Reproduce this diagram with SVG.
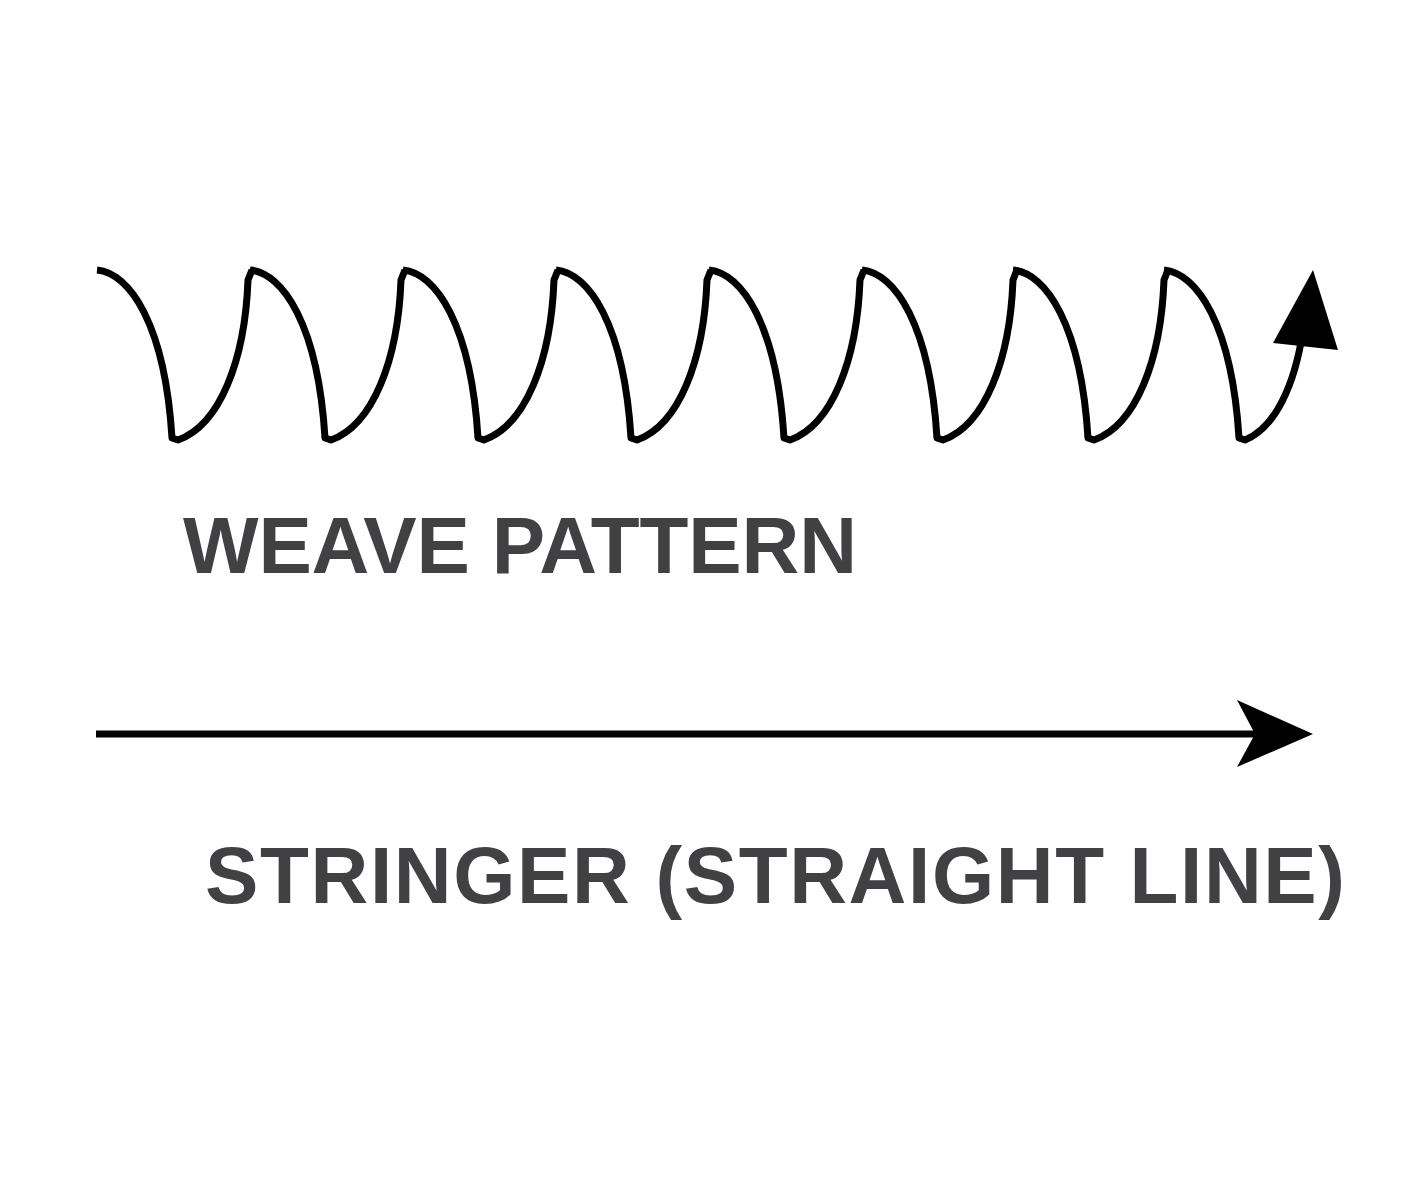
<svg xmlns="http://www.w3.org/2000/svg" width="1423" height="1185" viewBox="0 0 1423 1185">
<style>
.w{fill:none;stroke:#000;stroke-width:7;stroke-linejoin:round}
.t{font-family:"Liberation Sans",Arial,sans-serif;font-weight:bold;font-size:80px;fill:#414143}
</style>
<defs>
<path id="p" d="M0,0 C33,3 68,55 75,168 L81,170 C123,155 148,90 151,10 L155,0"/>
</defs>
<rect width="1423" height="1185" fill="#fff"/>
<g id="weave">
<use href="#p" x="97" y="270" class="w"/>
<use href="#p" x="250" y="270" class="w"/>
<use href="#p" x="403" y="270" class="w"/>
<use href="#p" x="556" y="270" class="w"/>
<use href="#p" x="709" y="270" class="w"/>
<use href="#p" x="862" y="270" class="w"/>
<use href="#p" x="1013" y="270" class="w"/>
<path class="w" d="M1164,270 C1197,273 1232,325 1239,438 L1245,440 C1275,428 1295,385 1303,330"/>
<polygon points="1313,270 1273,343 1338,350"/>
</g>
<g id="stringer">
<line x1="96" y1="734" x2="1255" y2="734" stroke="#000" stroke-width="7"/>
<polygon points="1313,734 1237,700 1255,734 1237,767"/>
</g>
<text class="t" x="183" y="573" textLength="674" lengthAdjust="spacing">WEAVE PATTERN</text>
<text class="t" x="205" y="903" textLength="1140" lengthAdjust="spacing">STRINGER (STRAIGHT LINE)</text>
</svg>
